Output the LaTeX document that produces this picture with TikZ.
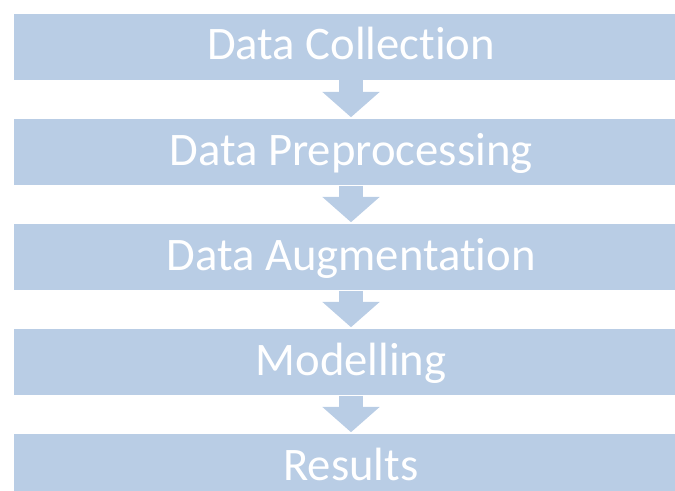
\documentclass[tikz,border=0pt]{standalone}
\usepackage{fontspec}
\setmainfont[Ligatures=NoCommon]{Carlito}
\usetikzlibrary{arrows.meta}
\definecolor{etape}{RGB}{185,205,229}

\begin{document}
\begin{tikzpicture}[x=0.75pt, y=-0.75pt,
    main/.style = {fill=etape, text=white, inner sep=0pt,
        minimum width=506pt, minimum height=49.5pt,
        text height=19.5pt, text depth=0pt,
        font=\fontsize{35}{40}\selectfont},
    fleche/.style = {etape, line width=18pt,
        -{Triangle[width=42pt, length=19pt]}, shorten >=1.5pt}]
                \useasboundingbox (0,0) rectangle (675,491);
                \clip (0,0) rectangle (675,491);

                % Steps
                \node[main] (1) at (351,47) {Data Collection};
                \node[main] (2) at (351,152.5) {Data Preprocessing};
                \node[main] (3) at (351,257.5) {Data Augmentation};
                \node[main] (4) at (351,362.5) {Modelling};
                \node[main] (5) at (351,467.5) {Results};

                % Arrows
                \draw[fleche] (1) -- (2);
                \draw[fleche] (2) -- (3);
                \draw[fleche] (3) -- (4);
                \draw[fleche] (4) -- (5);
\end{tikzpicture}
\end{document}
